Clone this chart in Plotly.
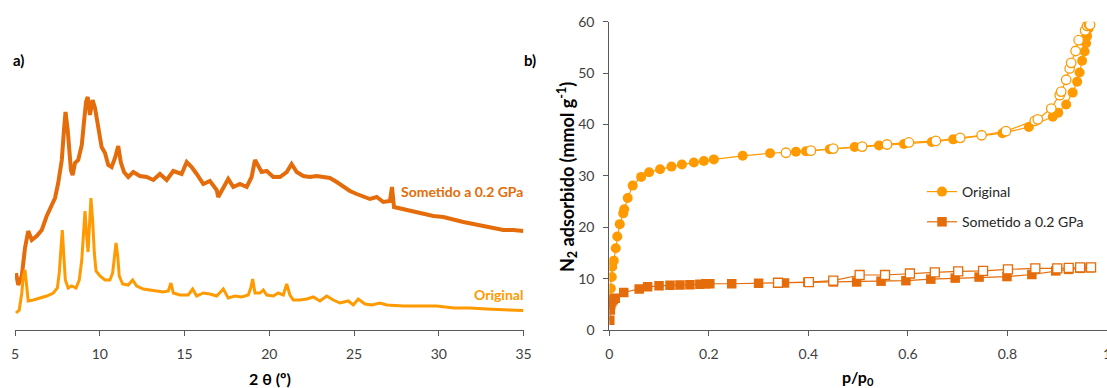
import plotly.graph_objects as go

W, H = 1107, 388

# ---------------- XRD data (2θ in degrees, intensity in arbitrary units) ----------------
xrd_theta_sometido = [5.06, 5.19, 5.40, 5.59, 5.78, 5.99, 6.28, 6.58, 6.87, 7.17, 7.36, 7.55, 7.76, 7.89,
                      7.98, 8.11, 8.20, 8.30, 8.40, 8.54, 8.73, 8.94, 9.07, 9.19, 9.29, 9.42, 9.58, 9.72,
                      9.86, 9.97, 10.11, 10.31, 10.50, 10.70, 10.90, 11.09, 11.24, 11.43, 11.68, 11.98,
                      12.37, 12.77, 13.16, 13.55, 13.95, 14.34, 14.83, 15.13, 15.42, 15.72, 16.11, 16.50,
                      16.90, 16.99, 17.29, 17.58, 17.88, 18.27, 18.67, 18.96, 19.16, 19.35, 19.55, 19.85,
                      20.24, 20.63, 21.03, 21.32, 21.62, 22.01, 22.40, 22.80, 23.19, 23.58, 23.98, 24.37,
                      24.76, 25.16, 25.55, 25.94, 26.34, 26.73, 27.12, 27.24, 27.36, 27.91, 28.50, 29.09,
                      29.68, 30.27, 30.86, 31.45, 32.04, 32.63, 33.22, 33.81, 34.40, 34.99]
xrd_int_sometido = [57, 45, 54, 82, 99, 90, 94, 100, 114, 124, 132, 147, 170, 200,
                    218, 200, 184, 160, 155, 167, 170, 185, 208, 228, 233, 215, 230, 222,
                    208, 194, 183, 177, 165, 163, 172, 184, 168, 158, 153, 158,
                    154, 153, 150, 156, 150, 159, 156, 168, 163, 156, 146, 149,
                    140, 133, 143, 151, 143, 146, 143, 153, 170, 165, 158, 159,
                    153, 153, 158, 166, 158, 154, 153, 154, 153, 152, 148, 143,
                    139, 136, 134, 131, 133, 128, 129, 143, 123, 121, 118, 116,
                    114, 113, 110, 108, 106, 104, 102, 100, 100, 99]

xrd_theta_original = [5.06, 5.25, 5.40, 5.49, 5.59, 5.69, 5.78, 6.08, 6.47, 6.87, 7.26, 7.50, 7.61, 7.71,
                      7.79, 7.87, 7.97, 8.14, 8.35, 8.60, 8.79, 8.94, 9.03, 9.13, 9.23, 9.31, 9.38, 9.48,
                      9.58, 9.68, 9.78, 10.01, 10.31, 10.60, 10.76, 10.86, 10.96, 11.06, 11.15, 11.35,
                      11.68, 11.94, 12.18, 12.57, 12.96, 13.36, 13.75, 14.04, 14.20, 14.34, 14.73, 15.22,
                      15.48, 15.72, 16.11, 16.50, 16.90, 17.29, 17.58, 17.98, 18.37, 18.76, 18.91, 19.02,
                      19.16, 19.45, 19.65, 19.85, 20.24, 20.53, 20.83, 21.03, 21.22, 21.42, 21.81, 22.21,
                      22.60, 22.99, 23.39, 23.78, 24.17, 24.66, 24.96, 25.25, 25.65, 26.04, 26.53, 26.93,
                      27.91, 28.90, 29.88, 30.90, 31.84, 32.80, 33.81, 34.99]
xrd_int_original = [17, 20, 37, 54, 60, 40, 29, 30, 32, 34, 37, 42, 57, 84,
                    100, 77, 50, 42, 44, 42, 50, 70, 100, 119, 94, 78, 100, 132,
                    110, 77, 59, 54, 50, 50, 57, 74, 87, 74, 54, 46,
                    45, 50, 44, 41, 40, 39, 38, 39, 47, 37, 35, 35,
                    41, 34, 37, 36, 34, 41, 32, 34, 33, 35, 42, 51,
                    37, 37, 40, 35, 34, 37, 35, 46, 35, 30, 30, 31,
                    33, 29, 34, 30, 27, 29, 25, 31, 26, 25, 27, 25,
                    24, 24, 24, 22, 22, 21, 20, 19.5]

xrd_ticks = [5, 10, 15, 20, 25, 30, 35]

# ---------------- N2 isotherm data (p/p0, mmol g-1) ----------------
orig_ads_p = [0.001, 0.003, 0.005, 0.006, 0.009, 0.013, 0.016, 0.021, 0.028, 0.030, 0.037, 0.047, 0.064,
              0.080, 0.102, 0.125, 0.146, 0.170, 0.190, 0.210, 0.268, 0.323, 0.375, 0.395, 0.443, 0.493,
              0.542, 0.592, 0.648, 0.691, 0.790, 0.843, 0.891, 0.902, 0.918, 0.931, 0.940, 0.945, 0.950,
              0.955, 0.958, 0.960, 0.963]
orig_ads_q = [6.2, 8.1, 10.3, 12.3, 13.5, 15.9, 18.2, 20.6, 22.7, 23.5, 25.7, 28.1, 29.8,
              30.7, 31.3, 31.8, 32.2, 32.6, 32.9, 33.2, 33.9, 34.4, 34.7, 34.8, 35.2, 35.6,
              35.9, 36.2, 36.6, 37.1, 38.3, 39.5, 41.5, 42.3, 43.9, 46.2, 48.3, 50.1, 52.4,
              54.2, 55.8, 57.2, 58.7]
orig_des_p = [0.355, 0.405, 0.450, 0.508, 0.558, 0.602, 0.656, 0.705, 0.748, 0.797, 0.855, 0.861, 0.888,
              0.905, 0.908, 0.918, 0.925, 0.928, 0.937, 0.943, 0.956, 0.960, 0.964, 0.966]
orig_des_q = [34.5, 34.9, 35.3, 35.7, 36.1, 36.5, 36.8, 37.4, 37.9, 38.7, 40.7, 41.0, 43.1,
              45.7, 46.4, 48.7, 50.9, 52.0, 54.3, 56.4, 58.3, 59.2, 59.4, 59.4]

som_ads_p = [0.001, 0.002, 0.003, 0.005, 0.008, 0.012, 0.029, 0.060, 0.077, 0.100, 0.122, 0.142, 0.162,
             0.182, 0.194, 0.202, 0.246, 0.300, 0.352, 0.399, 0.450, 0.497, 0.546, 0.596, 0.646, 0.695,
             0.743, 0.799, 0.849, 0.897, 0.923, 0.946, 0.966]
som_ads_q = [1.9, 3.9, 4.9, 5.5, 5.9, 6.2, 7.3, 8.0, 8.4, 8.6, 8.7, 8.76, 8.8,
             8.9, 9.0, 9.0, 9.0, 9.1, 9.15, 9.3, 9.35, 9.35, 9.5, 9.6, 9.9, 10.1,
             10.3, 10.4, 10.8, 11.5, 11.8, 12.0, 12.1]
som_des_p = [0.339, 0.401, 0.450, 0.503, 0.554, 0.604, 0.654, 0.701, 0.751, 0.801, 0.856, 0.900, 0.923,
             0.946, 0.968]
som_des_q = [9.2, 9.3, 9.6, 10.7, 10.7, 11.0, 11.2, 11.4, 11.5, 11.8, 12.0, 12.0, 12.1,
             12.2, 12.2]

iso_xticks = [0, 0.2, 0.4, 0.6, 0.8, 1]
iso_xticklabels = ["0", "0.2", "0.4", "0.6", "0.8", "1"]
iso_yticks = [0, 10, 20, 30, 40, 50, 60]

# ---------------- styling ----------------
LIGHT = "#FF9A00"
DARK = "#E46C0A"
FONT = "Lato, Open Sans, sans-serif"
AX = "#595959"
TXT = "#404040"

def px_x(p):
    return p / W

def px_y(p):
    return 1 - p / H

y_dom = [px_y(330), px_y(21.7)]

fig = go.Figure()

# XRD traces
fig.add_trace(go.Scatter(x=xrd_theta_sometido, y=xrd_int_sometido, mode="lines",
                         line=dict(color=DARK, width=4), showlegend=False,
                         xaxis="x", yaxis="y", hoverinfo="skip"))
fig.add_trace(go.Scatter(x=xrd_theta_original, y=xrd_int_original, mode="lines",
                         line=dict(color=LIGHT, width=3), showlegend=False,
                         xaxis="x", yaxis="y", hoverinfo="skip"))

# Isotherms
fig.add_trace(go.Scatter(x=orig_ads_p, y=orig_ads_q, mode="lines+markers", name="Original",
                         legendgroup="o",
                         line=dict(color=LIGHT, width=1.2),
                         marker=dict(symbol="circle", size=10, color=LIGHT, line=dict(width=0)),
                         xaxis="x2", yaxis="y2"))
fig.add_trace(go.Scatter(x=orig_des_p, y=orig_des_q, mode="lines+markers", name="Original des",
                         legendgroup="o", showlegend=False,
                         line=dict(color=LIGHT, width=1.2),
                         marker=dict(symbol="circle", size=9.5, color="white",
                                     line=dict(color=LIGHT, width=1.3)),
                         xaxis="x2", yaxis="y2"))
fig.add_trace(go.Scatter(x=som_ads_p, y=som_ads_q, mode="lines+markers", name="Sometido a 0.2 GPa",
                         legendgroup="s",
                         line=dict(color=DARK, width=1.2),
                         marker=dict(symbol="square", size=9.5, color=DARK, line=dict(width=0)),
                         xaxis="x2", yaxis="y2"))
fig.add_trace(go.Scatter(x=som_des_p, y=som_des_q, mode="lines+markers", name="Sometido des",
                         legendgroup="s", showlegend=False,
                         line=dict(color=DARK, width=1.2),
                         marker=dict(symbol="square", size=9, color="white",
                                     line=dict(color=DARK, width=1.3)),
                         xaxis="x2", yaxis="y2"))

tickfont = dict(family=FONT, size=14, color=TXT)

fig.update_layout(
    width=W, height=H,
    margin=dict(l=0, r=0, t=0, b=0, autoexpand=False),
    paper_bgcolor="white", plot_bgcolor="white",
    font=dict(family=FONT, color=TXT),
    xaxis=dict(domain=[px_x(15), px_x(523.5)], range=[5, 35], tickvals=xrd_ticks,
               showline=True, linecolor=AX, linewidth=1, ticks="outside", ticklen=5,
               tickcolor=AX, tickfont=tickfont, showgrid=False, zeroline=False,
               ticklabelstandoff=6, anchor="y", automargin=False),
    yaxis=dict(domain=y_dom, range=[0, 308.3], visible=False, showgrid=False,
               zeroline=False, anchor="x", automargin=False),
    xaxis2=dict(domain=[px_x(609.3), 1.0], range=[0, 1], tickvals=iso_xticks,
                ticktext=iso_xticklabels,
                showline=True, linecolor=AX, linewidth=1, ticks="outside", ticklen=5,
                tickcolor=AX, tickfont=tickfont, showgrid=False, zeroline=False,
                ticklabelstandoff=6, ticklabeloverflow="allow", anchor="y2", automargin=False),
    yaxis2=dict(domain=y_dom, range=[0, 60], tickvals=iso_yticks,
                showline=True, linecolor=AX, linewidth=1, ticks="outside", ticklen=5,
                tickcolor=AX, tickfont=tickfont, showgrid=False, zeroline=False,
                ticklabelstandoff=6, anchor="x2", automargin=False),
    legend=dict(x=px_x(922), y=px_y(176), xanchor="left", yanchor="top",
                bgcolor="rgba(0,0,0,0)", font=dict(family=FONT, size=14, color="#262626"),
                tracegroupgap=9, traceorder="grouped"),
    showlegend=True,
)

annotations = [
    dict(text="<b>a)</b>", x=px_x(11), y=px_y(60), xanchor="left", yanchor="middle",
         font=dict(family=FONT, size=15, color="black")),
    dict(text="<b>b)</b>", x=px_x(522), y=px_y(60), xanchor="left", yanchor="middle",
         font=dict(family=FONT, size=15, color="black")),
    dict(text="<b>Sometido a 0.2 GPa</b>", x=px_x(525), y=px_y(191), xanchor="right", yanchor="middle",
         font=dict(family=FONT, size=14, color=DARK)),
    dict(text="<b>Original</b>", x=px_x(525), y=px_y(294), xanchor="right", yanchor="middle",
         font=dict(family=FONT, size=14, color=LIGHT)),
    dict(text="<b>2 θ (º)</b>", x=px_x(270), y=px_y(378), xanchor="center", yanchor="middle",
         font=dict(family=FONT, size=16, color="black")),
    dict(text="<b>p/p<sub>0</sub></b>", x=px_x(858), y=px_y(377), xanchor="center", yanchor="middle",
         font=dict(family=FONT, size=16, color="black")),
    dict(text="<b>N<sub>2</sub> adsorbido (mmol g<sup>-1</sup>)</b>", x=px_x(567), y=px_y(177),
         xanchor="center", yanchor="middle", textangle=-90,
         font=dict(family=FONT, size=18, color="black")),
]
for a in annotations:
    a.update(xref="paper", yref="paper", showarrow=False)
fig.update_layout(annotations=annotations)

fig.write_html("out.html", config={"displayModeBar": False},
               post_script="document.body.style.margin='0';")
